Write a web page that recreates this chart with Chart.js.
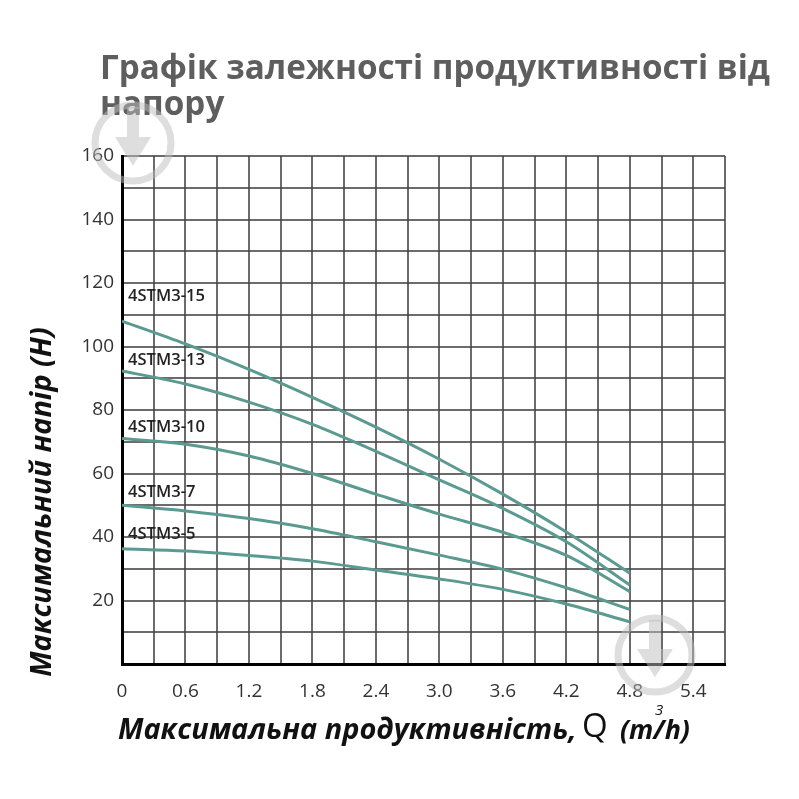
<!DOCTYPE html>
<html lang="uk">
<head>
<meta charset="utf-8">
<title>Графік залежності продуктивності від напору</title>
<script src="https://cdn.jsdelivr.net/npm/chart.js@4.4.1/dist/chart.umd.min.js"></script>
<style>
    html, body { margin: 0; padding: 0; background: #fff; }
    #wrap { width: 799px; height: 799px; position: relative; }
</style>
</head>
<body>
<div id="wrap"><canvas id="graph"></canvas></div>
<script>
// ДАНІ
const flowRates = [0, 0.6, 1.2, 1.8, 2.4, 3.0, 3.6, 4.2, 4.8];
const pumpModels = ["4STM3-15", "4STM3-13", "4STM3-10", "4STM3-7", "4STM3-5"];
const head15 = [108, 100.8, 92.8, 84, 74.6, 64.5, 53.5, 41.6, 28.6];
const head13 = [92.3, 88.2, 82.5, 75.5, 67, 58, 49, 38.5, 24.9];
const head10 = [71, 69.2, 65.5, 60, 53.5, 47.2, 41.5, 34.2, 22.8];
const head7 = [50, 48.2, 45.8, 42.6, 38.5, 34.3, 29.8, 24, 17.2];
const head5 = [36.3, 35.6, 34.2, 32.4, 29.6, 26.8, 23.5, 18.9, 13.3];
const xTickLabels = ["0", "0.6", "1.2", "1.8", "2.4", "3.0", "3.6", "4.2", "4.8", "5.4"];
const yTickLabels = ["20", "40", "60", "80", "100", "120", "140", "160"];

const heads = [head15, head13, head10, head7, head5];

// СТИЛЬ
const FONT = '"Open Sans", "DejaVu Sans", sans-serif';
const lineColor = "#5b9a90";
const labelLift = [25, 11, 11, 13, 14];

function fitSize(ctx, text, style, width) {
    ctx.font = style + " 100px " + FONT;
    return 100 * width / ctx.measureText(text).width;
}

function drawMark(ctx, cx, cy, r) {
    ctx.save();
    ctx.strokeStyle = "rgba(190,190,190,0.5)";
    ctx.fillStyle = "rgba(190,190,190,0.5)";
    ctx.lineWidth = 7;
    ctx.beginPath();
    ctx.arc(cx, cy, r, 0, Math.PI * 2);
    ctx.stroke();
    ctx.beginPath();
    ctx.moveTo(cx - 6, cy - r * 0.95);
    ctx.lineTo(cx + 6, cy - r * 0.95);
    ctx.lineTo(cx + 6, cy - 6);
    ctx.lineTo(cx + 18, cy - 6);
    ctx.lineTo(cx, cy + r * 0.6);
    ctx.lineTo(cx - 18, cy - 6);
    ctx.lineTo(cx - 6, cy - 6);
    ctx.closePath();
    ctx.fill();
    ctx.restore();
}

// ПІДПИСИ, ЗАГОЛОВОК, НАЗВИ ОСЕЙ
const decor = {
    id: "decor",
    afterDatasetsDraw(chart) {
        const ctx = chart.ctx;
        const size = fitSize(ctx, "4STM3-15", "600", 77);
        ctx.save();
        ctx.font = "600 " + size + "px " + FONT;
        ctx.fillStyle = "#222";
        ctx.textAlign = "left";
        ctx.textBaseline = "middle";
        chart.data.datasets.forEach((ds, i) => {
            const p = chart.getDatasetMeta(i).data[0];
            ctx.fillText(ds.label, chart.chartArea.left + 6, p.y - labelLift[i]);
        });
        ctx.restore();
    },
    afterDraw(chart) {
        const ctx = chart.ctx;
        ctx.save();
        ctx.textBaseline = "middle";

        // заголовок
        const t1 = "Графік залежності продуктивності від";
        const ts = fitSize(ctx, t1, "bold", 670);
        ctx.font = "bold " + ts + "px " + FONT;
        ctx.fillStyle = "#5e5e5e";
        ctx.textAlign = "left";
        ctx.fillText(t1, 100, 70);
        ctx.fillText("напору", 100, 106);

        // назва осі Y
        const yt = "Максимальний напір (H)";
        const ys = fitSize(ctx, yt, "italic bold", 350);
        ctx.save();
        ctx.translate(43, 502);
        ctx.rotate(-Math.PI / 2);
        ctx.font = "italic bold " + ys + "px " + FONT;
        ctx.fillStyle = "#111";
        ctx.textAlign = "center";
        ctx.fillText(yt, 0, 0);
        ctx.restore();

        // назва осі X
        const xt = "Максимальна продуктивність,";
        const xs = fitSize(ctx, xt, "italic bold", 459);
        ctx.fillStyle = "#111";
        ctx.textAlign = "left";
        ctx.font = "italic bold " + xs + "px " + FONT;
        ctx.fillText(xt, 118, 731);
        ctx.font = "400 33px " + FONT;
        ctx.fillText("Q", 582, 728);
        const us = fitSize(ctx, "(m/h)", "italic bold", 70);
        ctx.font = "italic bold " + us + "px " + FONT;
        ctx.fillText("(m/h)", 620, 731);
        ctx.font = "italic 15px " + FONT;
        ctx.fillText("3", 655, 711);

        // водяні знаки
        drawMark(ctx, 133, 143, 38);
        drawMark(ctx, 655, 655, 37);

        ctx.restore();
    },
};

// ПОБУДУВАТИ ГРАФІК
const datasets = pumpModels.map((name, i) => ({
    label: name,
    data: flowRates.map((q, j) => ({ x: q, y: heads[i][j] })),
    borderColor: lineColor,
    borderWidth: 3,
    pointRadius: 0,
    fill: false,
    tension: 0.4,
    cubicInterpolationMode: "monotone",
}));

const ctx = document.getElementById("graph");
new Chart(ctx, {
    type: "line",
    data: { datasets },
    options: {
        responsive: true,
        maintainAspectRatio: false,
        animation: false,
        layout: {
            padding: { left: 0, top: 156, right: 74, bottom: 0 },
        },
        scales: {
            x: {
                type: "linear",
                min: 0,
                max: 5.7,
                afterFit: (scale) => { scale.height = 135; },
                grid: {
                    color: "rgba(70,70,70,0.8)",
                    lineWidth: 2,
                    drawTicks: false,
                },
                border: { color: "#000", width: 3 },
                ticks: {
                    stepSize: 0.3,
                    autoSkip: false,
                    maxRotation: 0,
                    padding: 16,
                    color: "#333",
                    font: { size: 19, family: FONT },
                    callback: (value) => {
                        const s = value === 0 ? "0" : value.toFixed(1);
                        return xTickLabels.includes(s) ? s : "";
                    },
                },
            },
            y: {
                min: 0,
                max: 160,
                afterFit: (scale) => { scale.width = 122; },
                grid: {
                    color: "rgba(70,70,70,0.8)",
                    lineWidth: 2,
                    drawTicks: false,
                },
                border: { color: "#000", width: 3 },
                ticks: {
                    stepSize: 10,
                    autoSkip: false,
                    padding: 8,
                    color: "#333",
                    font: { size: 19, family: FONT },
                    callback: (value) => {
                        const s = String(value);
                        return yTickLabels.includes(s) ? s : "";
                    },
                },
            },
        },
        plugins: {
            legend: { display: false },
            title: { display: false },
            tooltip: { enabled: false },
        },
    },
    plugins: [decor],
});
</script>
</body>
</html>
